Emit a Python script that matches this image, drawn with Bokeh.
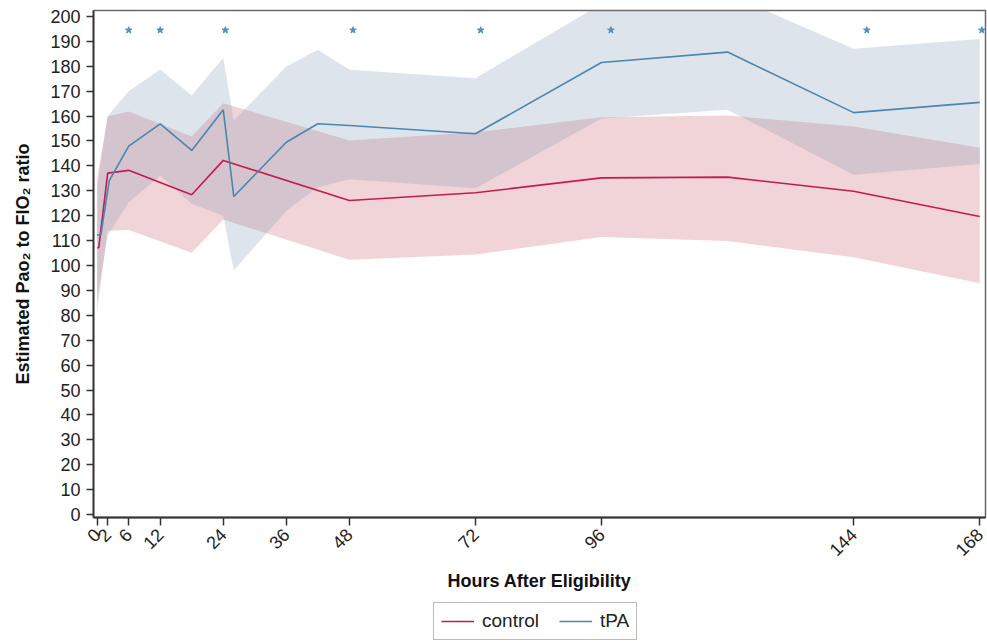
from math import pi
from bokeh.plotting import figure
from bokeh.layouts import column
from bokeh.models import Range1d, FixedTicker, Legend, LegendItem
from bokeh.embed import file_html
from bokeh.resources import INLINE

# ---- data ----
x_tick_hours = [0, 2, 6, 12, 24, 36, 48, 72, 96, 144, 168]
y_ticks = list(range(0, 201, 10))

control_hours = [0, 0.3, 2, 6, 18, 24, 48, 72, 96, 120, 144, 168]
control_ratio = [107.1, 107.1, 137.1, 138.2, 128.4, 142.2, 126.1, 129.2, 135.2, 135.5, 129.8, 119.7]
control_band_hours = [0, 2, 6, 18, 24, 48, 72, 96, 120, 144, 168]
control_lower = [82, 114, 114.3, 105.1, 118.5, 102.3, 104.4, 111.4, 109.8, 103.3, 92.9]
control_upper = [135, 159.8, 161.8, 151.8, 165.2, 150.2, 153.5, 159.5, 160.2, 155.8, 147.3]

tpa_hours = [0, 0.7, 2.3, 6, 12, 18, 24, 26, 36, 42, 48, 72, 96, 120, 144, 168]
tpa_ratio = [112.3, 112.3, 134.1, 147.9, 156.9, 146.2, 162.5, 127.7, 149.5, 156.9, 156.2,
             152.9, 181.5, 185.7, 161.4, 165.5]
tpa_band_hours = [0, 2, 6, 12, 18, 24, 26, 36, 42, 48, 72, 96, 120, 144, 168]
tpa_lower = [87, 112, 125.4, 136, 124.8, 120, 98, 122, 131.4, 134.6, 131, 159, 162.5, 136.4, 140.8]
tpa_upper = [132, 160, 170, 178.7, 168.3, 183.4, 158.2, 179.9, 186.6, 178.6, 175.2, 205, 209, 187, 191]

star_hours = [6, 12, 24.4, 48.7, 73, 97.8, 146.5, 168.4]
star_level = [194.5] * len(star_hours)

series_names = ["control", "tPA"]

# ---- styling ----
FONT = "Liberation Sans"
RED = "#C41A52"
BLUE = "#4A86B0"

p = figure(width=987, height=596, output_backend="svg", toolbar_location=None,
           x_range=Range1d(-0.7, 169.1), y_range=Range1d(-1.2, 202.4),
           min_border_left=93, min_border_right=2, min_border_top=10,
           min_border_bottom=79, background_fill_color="white",
           border_fill_color="white")

p.xgrid.visible = False
p.ygrid.visible = False
p.outline_line_color = "#6a6a6a"
p.outline_line_width = 1.5

# bands
p.varea(x=control_band_hours, y1=control_lower, y2=control_upper,
        fill_color="#F1D4D7", fill_alpha=1.0)
p.varea(x=tpa_band_hours, y1=tpa_lower, y2=tpa_upper,
        fill_color="#7B93B3", fill_alpha=0.25)

# lines
p.line(control_hours, control_ratio, line_color=RED, line_width=1.6)
p.line(tpa_hours, tpa_ratio, line_color=BLUE, line_width=1.6)

# significance stars
p.scatter(star_hours, star_level, marker="star", size=7,
          fill_color="#4F8FC2", line_color="#4F8FC2")

# axes
p.yaxis.ticker = FixedTicker(ticks=y_ticks)
p.xaxis.ticker = FixedTicker(ticks=x_tick_hours)
for ax in (p.xaxis, p.yaxis):
    ax.minor_tick_line_color = None
    ax.major_tick_in = 0
    ax.major_tick_line_color = "#333333"
    ax.major_tick_line_width = 1.5
    ax.axis_line_color = "#333333"
    ax.axis_line_width = 1.8
    ax.major_label_text_font = FONT
    ax.major_label_text_font_size = "18px"
    ax.major_label_text_color = "#222222"
    ax.axis_label_text_font = FONT
    ax.axis_label_text_font_size = "18px"
    ax.axis_label_text_font_style = "bold"
    ax.axis_label_text_color = "#111111"

p.yaxis.major_tick_out = 7
p.yaxis.major_label_standoff = 6
p.yaxis.axis_label = "Estimated Pao\u2082 to FIO\u2082 ratio"
p.yaxis.axis_label_standoff = 14

p.xaxis.major_tick_out = 8
p.xaxis.major_label_standoff = 6
p.xaxis.major_label_orientation = pi / 4
p.xaxis.axis_label = "Hours After Eligibility"
p.xaxis.axis_label_standoff = 6

# ---- legend strip below the chart (series drawn out of view; legend only) ----
lg = figure(width=987, height=45, output_backend="svg", toolbar_location=None,
            x_range=Range1d(-0.7, 169.1), y_range=Range1d(-1000, -999),
            min_border_left=0, min_border_right=0, min_border_top=0,
            min_border_bottom=0, border_fill_color="white")
lg.axis.visible = False
lg.grid.visible = False
lg.outline_line_color = None
lr_control = lg.line(control_hours, control_ratio, line_color=RED, line_width=1.6)
lr_tpa = lg.line(tpa_hours, tpa_ratio, line_color=BLUE, line_width=1.6)

legend = Legend(items=[LegendItem(label=series_names[0], renderers=[lr_control]),
                       LegendItem(label=series_names[1], renderers=[lr_tpa])],
                orientation="horizontal", location=(340, 1))
legend.label_text_font = FONT
legend.label_text_font_size = "19px"
legend.label_text_color = "#222222"
legend.glyph_width = 33
legend.glyph_height = 18
legend.label_height = 18
legend.label_standoff = 8
legend.spacing = 20
legend.padding = 7
legend.margin = 0
legend.border_line_color = "#777777"
legend.border_line_width = 1.2
legend.background_fill_alpha = 1.0
lg.add_layout(legend, "center")

layout = column(p, lg, spacing=0)
open("out.html", "w").write(file_html(layout, INLINE))
